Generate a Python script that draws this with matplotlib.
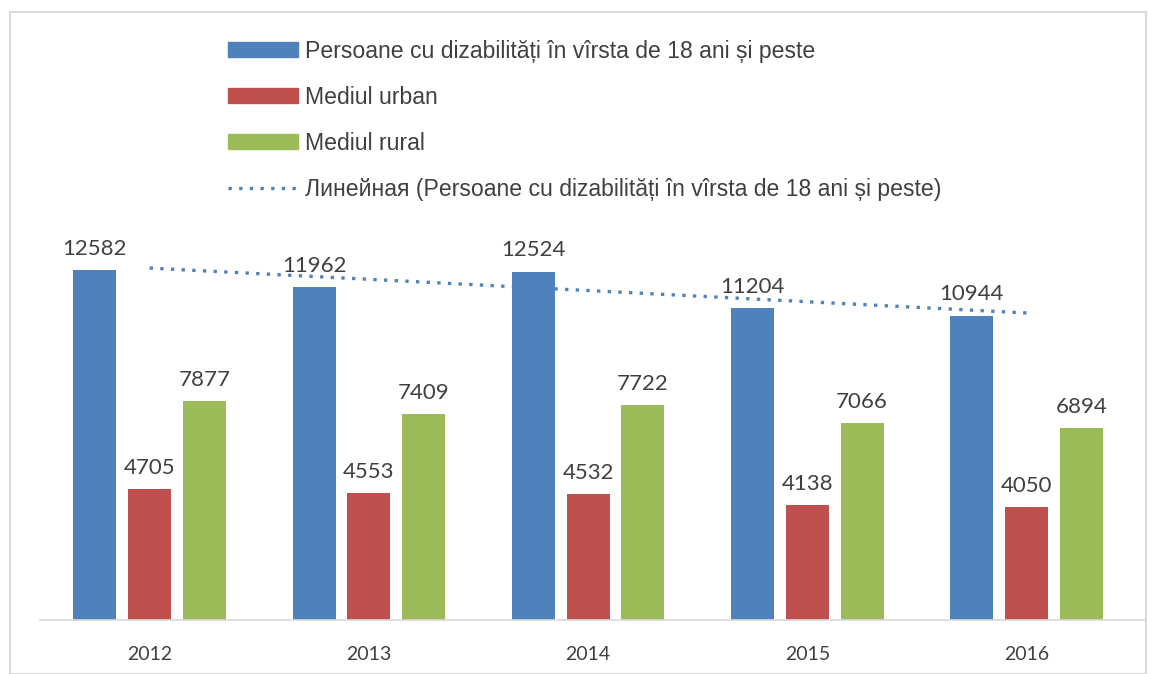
import numpy as np
import matplotlib
matplotlib.use('Agg')
import matplotlib.pyplot as plt
from matplotlib.patches import Patch, Rectangle
from matplotlib.lines import Line2D

years = ['2012', '2013', '2014', '2015', '2016']
total = [12582, 11962, 12524, 11204, 10944]
urban = [4705, 4553, 4532, 4138, 4050]
rural = [7877, 7409, 7722, 7066, 6894]

labels = ['Persoane cu dizabilități în vîrsta de 18 ani și peste',
          'Mediul urban',
          'Mediul rural',
          'Линейная (Persoane cu dizabilități în vîrsta de 18 ani și peste)']
colors = ['#4F81BD', '#C0504D', '#9BBB59']

fig = plt.figure(figsize=(11.52, 6.74), dpi=100)
ax = fig.add_axes([40 / 1152, 54 / 674, 1105 / 1152, 420 / 674])

x = np.arange(len(years))
w = 0.196
off = 0.25
for i, (vals, c) in enumerate(zip([total, urban, rural], colors)):
    pos = x + (i - 1) * off
    ax.bar(pos, vals, width=w, color=c, zorder=2)
    for p, v in zip(pos, vals):
        ax.annotate(str(v), (p, v), xytext=(0, 8), textcoords='offset points',
                    ha='center', va='bottom', fontsize=16, color='#404040',
                    family='Lato')

# linear trend of the total series
k, b = np.polyfit(x, total, 1)
ax.plot(x, k * x + b, color='#4F81BD', linestyle=(0, (1, 2.2)), linewidth=2.4, zorder=3)

ax.set_xlim(-0.5, 4.54)
ax.set_ylim(0, 15097)
ax.set_xticks(x)
ax.set_xticklabels(years, family='Lato', fontsize=14, color='#404040')
ax.tick_params(axis='x', length=0, pad=19)
ax.set_yticks([])
for s in ['top', 'right', 'left']:
    ax.spines[s].set_visible(False)
ax.spines['bottom'].set_color('#D9D9D9')
ax.spines['bottom'].set_linewidth(1.2)

handles = [Patch(color=c) for c in colors]
handles.append(Line2D([], [], color='#4F81BD', linestyle=(0, (1, 2.2)), linewidth=2.4))
fig.legend(handles, labels, loc='upper left', bbox_to_anchor=(207 / 1152, 1 - 19 / 674),
           frameon=False, prop={'family': 'Liberation Sans', 'size': 16.6},
           labelcolor='#404040', handlelength=3.05, handleheight=0.6,
           labelspacing=1.0, handletextpad=0.28)

fig.add_artist(Rectangle((10 / 1152, 0), 1136 / 1152, 662 / 674, transform=fig.transFigure,
                         fill=False, edgecolor='#D9D9D9', linewidth=1.5))

fig.savefig('out.png', dpi=100)
